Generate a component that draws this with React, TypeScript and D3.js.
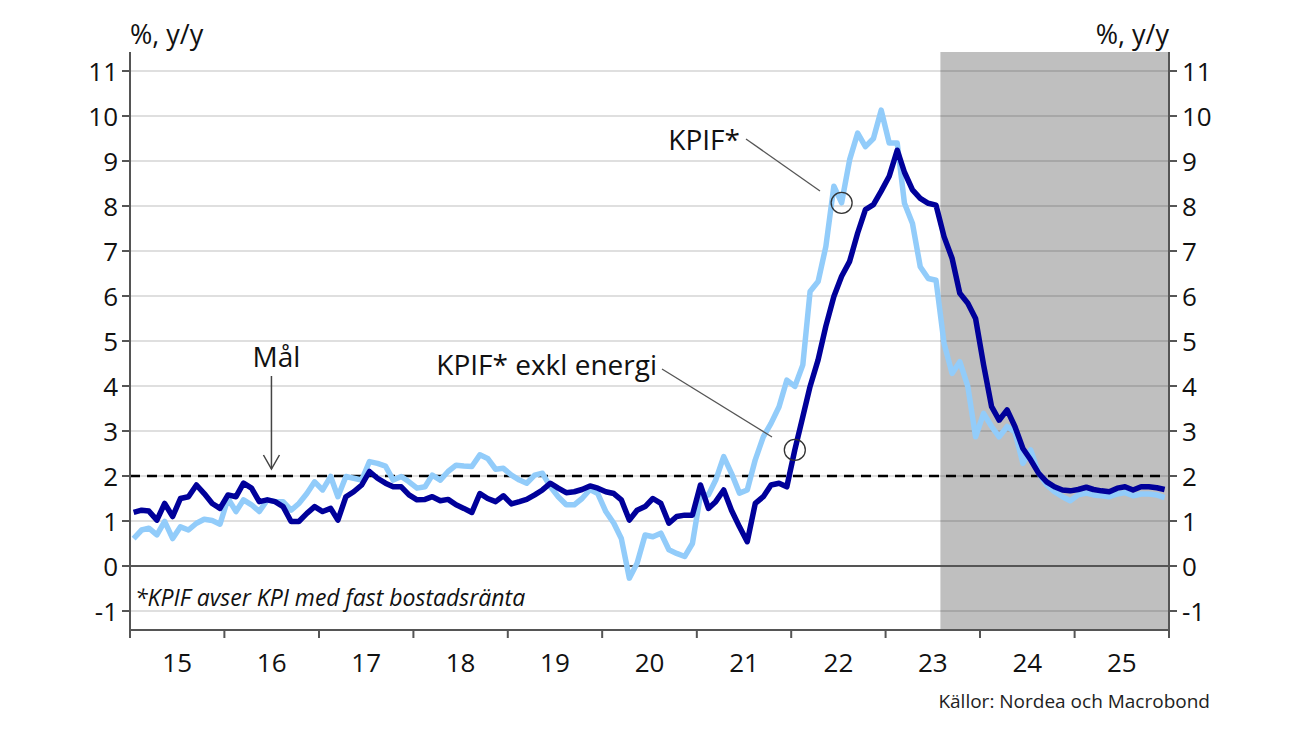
import React from "react";
import * as d3 from "d3";

// ---- Data ----
const startMonth = new Date(2015, 0, 1);
const kpifExklEnergi: number[] = [
  1.19, 1.24, 1.22, 1.02, 1.39, 1.1, 1.5, 1.54, 1.8, 1.61, 1.39, 1.28,
  1.58, 1.54, 1.84, 1.73, 1.43, 1.47, 1.43, 1.32, 0.99, 0.99, 1.17, 1.32,
  1.21, 1.28, 1.02, 1.54, 1.65, 1.8, 2.1, 1.95, 1.84, 1.76, 1.76, 1.58,
  1.47, 1.48, 1.54, 1.45, 1.48, 1.36, 1.28, 1.19, 1.61, 1.5, 1.43, 1.56,
  1.38, 1.43, 1.48, 1.58, 1.69, 1.84, 1.73, 1.63, 1.65, 1.7, 1.78, 1.73,
  1.65, 1.61, 1.47, 1.02, 1.24, 1.32, 1.5, 1.39, 0.95, 1.1, 1.13, 1.13,
  1.8, 1.28, 1.43, 1.69, 1.24, 0.87, 0.54, 1.39, 1.54, 1.8, 1.84, 1.76,
  2.58, 3.32, 3.99, 4.58, 5.33, 5.99, 6.44, 6.77, 7.4, 7.92, 8.03, 8.33,
  8.66, 9.24, 8.75, 8.36, 8.17, 8.06, 8.02, 7.32, 6.84, 6.06, 5.84, 5.5,
  4.47, 3.54, 3.24, 3.47, 3.1, 2.61, 2.36, 2.06, 1.87, 1.76, 1.69, 1.67,
  1.7, 1.75, 1.7, 1.67, 1.65, 1.73, 1.76, 1.69, 1.76, 1.76, 1.74, 1.7,
];
const kpif: number[] = [
  0.61, 0.8, 0.84, 0.69, 0.99, 0.61, 0.87, 0.8, 0.95, 1.04, 1.01, 0.93,
  1.5, 1.21, 1.47, 1.36, 1.21, 1.47, 1.43, 1.43, 1.24, 1.39, 1.61, 1.87,
  1.69, 1.99, 1.54, 1.99, 1.95, 1.91, 2.32, 2.28, 2.22, 1.91, 1.99, 1.87,
  1.73, 1.76, 2.02, 1.91, 2.1, 2.24, 2.22, 2.21, 2.47, 2.39, 2.15, 2.17,
  2.02, 1.91, 1.84, 2.02, 2.06, 1.76, 1.54, 1.36, 1.36, 1.5, 1.7, 1.61,
  1.21, 0.95, 0.61, -0.27, 0.06, 0.69, 0.65, 0.73, 0.36, 0.28, 0.21, 0.5,
  1.58, 1.58, 1.91, 2.43, 2.06, 1.62, 1.69, 2.36, 2.87, 3.17, 3.54, 4.13,
  3.99, 4.47, 6.1, 6.32, 7.1, 8.44, 8.07, 9.03, 9.62, 9.32, 9.5, 10.13,
  9.4, 9.4, 8.06, 7.61, 6.65, 6.39, 6.35, 4.95, 4.28, 4.54, 3.99, 2.87,
  3.39, 3.1, 2.87, 3.1, 2.98, 2.28, 2.58, 2.06, 1.8, 1.65, 1.54, 1.45,
  1.58, 1.62, 1.58, 1.56, 1.54, 1.6, 1.63, 1.56, 1.6, 1.6, 1.58, 1.52,
];
const yTicks = [-1, 0, 1, 2, 3, 4, 5, 6, 7, 8, 9, 10, 11];
const yearLabels = ["15", "16", "17", "18", "19", "20", "21", "22", "23", "24", "25"];
const targetValue = 2;
const forecastStart = new Date(2023, 7, 1);
const axisUnit = "%, y/y";
const labelKpif = "KPIF*";
const labelExkl = "KPIF* exkl energi";
const labelTarget = "Mål";
const footnote = "*KPIF avser KPI med fast bostadsränta";
const source = "Källor: Nordea och Macrobond";
// annotation anchors (month index, series)
const kpifAnchorMonth = 90;
const exklAnchorMonth = 84;
const targetArrowDate = new Date(2016, 6, 1);

// ---- Layout ----
const W = 1300;
const H = 731;
const left = 130;
const right = 1169;
const top = 52;
const bottom = 630;
const FONT = "'Open Sans', 'Noto Sans', sans-serif";

const monthDate = (i: number) => {
  const d = d3.timeMonth.offset(startMonth, i);
  return new Date(d.getFullYear(), d.getMonth(), 15);
};

export default function App() {
  const x = d3
    .scaleTime()
    .domain([new Date(2015, 0, 1), new Date(2026, 0, 1)])
    .range([left, right]);
  const y = d3.scaleLinear().domain([-1, 11]).range([611, 71]);

  const line = d3
    .line<number>()
    .x((_, i) => x(monthDate(i)))
    .y((d) => y(d));

  const years = d3.range(2015, 2027).map((yr) => new Date(yr, 0, 1));
  const fx = x(forecastStart);

  const kA = { x: x(monthDate(kpifAnchorMonth)), y: y(kpif[kpifAnchorMonth]) };
  const eA = { x: x(monthDate(exklAnchorMonth)), y: y(kpifExklEnergi[exklAnchorMonth]) };
  const tx = x(targetArrowDate);

  return (
    <svg
      width={W}
      height={H}
      style={{ position: "absolute", left: 0, top: 0, background: "#fff" }}
      fontFamily={FONT}
    >
      {/* forecast shade */}
      <rect x={fx} y={top} width={right - fx} height={bottom - top} fill="#bfbfbf" />
      {/* grid */}
      {yTicks.map((t) => (
        <line
          key={"g" + t}
          x1={left}
          x2={right}
          y1={y(t)}
          y2={y(t)}
          stroke={t === 0 ? "#555" : "rgba(0,0,0,0.17)"}
          strokeWidth={t === 0 ? 2 : 1.5}
        />
      ))}
      {/* target line */}
      <line
        x1={left}
        x2={right - 8}
        y1={y(targetValue)}
        y2={y(targetValue)}
        stroke="#000"
        strokeWidth={2.5}
        strokeDasharray="10 7"
      />
      {/* series */}
      <path d={line(kpif) || ""} fill="none" stroke="#92CCFA" strokeWidth={5.5} strokeLinejoin="round" />
      <path d={line(kpifExklEnergi) || ""} fill="none" stroke="#00009A" strokeWidth={5.5} strokeLinejoin="round" />

      {/* axes */}
      <line x1={left} x2={left} y1={top} y2={bottom} stroke="#555" strokeWidth={2} />
      <line x1={right} x2={right} y1={top} y2={bottom} stroke="#555" strokeWidth={2} />
      <line x1={left - 1} x2={right + 1} y1={bottom} y2={bottom} stroke="#555" strokeWidth={2} />
      {yTicks.map((t) => (
        <g key={"t" + t}>
          <line x1={left - 8} x2={left} y1={y(t)} y2={y(t)} stroke="#555" strokeWidth={2} />
          <line x1={right} x2={right + 8} y1={y(t)} y2={y(t)} stroke="#555" strokeWidth={2} />
          <text x={left - 12} y={y(t) + 9.5} textAnchor="end" fontSize={26} fill="#111">
            {t < 0 ? "-" + Math.abs(t) : t}
          </text>
          <text x={right + 13} y={y(t) + 9.5} textAnchor="start" fontSize={26} fill="#111">
            {t < 0 ? "-" + Math.abs(t) : t}
          </text>
        </g>
      ))}
      {years.map((d, i) => (
        <line key={"xt" + i} x1={x(d)} x2={x(d)} y1={bottom} y2={bottom + 8} stroke="#555" strokeWidth={2} />
      ))}
      {yearLabels.map((lab, i) => (
        <text
          key={"xl" + lab}
          x={(x(years[i]) + x(years[i + 1])) / 2}
          y={672}
          textAnchor="middle"
          fontSize={26}
          fill="#111"
        >
          {lab}
        </text>
      ))}
      <text x={left} y={44} fontSize={27} fill="#111">{axisUnit}</text>
      <text x={right} y={44} fontSize={27} fill="#111" textAnchor="end">{axisUnit}</text>

      {/* annotations */}
      <text x={740} y={150} fontSize={28} fill="#111" textAnchor="end">{labelKpif}</text>
      <line x1={746} y1={139} x2={820} y2={191} stroke="#555" strokeWidth={1.3} />
      <circle cx={kA.x} cy={kA.y} r={10.5} fill="none" stroke="#333" strokeWidth={1.3} />

      <text x={657} y={375} fontSize={28} fill="#111" textAnchor="end">{labelExkl}</text>
      <line x1={662} y1={369} x2={772} y2={437} stroke="#555" strokeWidth={1.3} />
      <circle cx={eA.x} cy={eA.y} r={10.5} fill="none" stroke="#333" strokeWidth={1.3} />

      <text x={tx + 5} y={367} fontSize={28} fill="#111" textAnchor="middle">{labelTarget}</text>
      <line x1={tx} y1={376} x2={tx} y2={469} stroke="#444" strokeWidth={1.5} />
      <polyline
        points={`${tx - 8},${455} ${tx},${469} ${tx + 8},${455}`}
        fill="none"
        stroke="#444"
        strokeWidth={1.5}
      />

      <text x={135} y={606} fontSize={23} fontStyle="italic" fill="#111">{footnote}</text>
      <text x={1210} y={708} fontSize={19} fill="#222" textAnchor="end">{source}</text>
    </svg>
  );
}
